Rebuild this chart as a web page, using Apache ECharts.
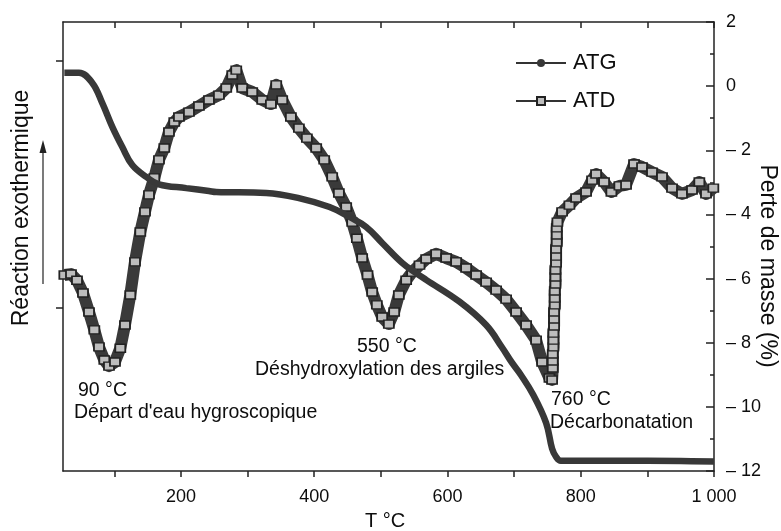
<!DOCTYPE html>
<html>
<head>
<meta charset="utf-8">
<script src="https://cdn.jsdelivr.net/npm/echarts/dist/echarts.min.js"></script>
<style>
html,body{margin:0;padding:0;background:#fff;}
#c{width:781px;height:531px;}
</style>
</head>
<body>
<div id="c"></div>
<script>
// ---- data ----
const atgT = [25, 47, 67, 82, 97, 112, 127, 148, 167, 208, 242, 253, 328, 377, 423, 453, 478, 502, 532, 553, 568, 618, 658, 682, 696, 710, 728, 748, 757, 763, 770, 850, 950, 1000];
const atgV = [0.42, 0.42, 0.10, -0.53, -1.27, -1.90, -2.46, -2.83, -3.06, -3.18, -3.27, -3.30, -3.33, -3.49, -3.77, -4.08, -4.39, -4.89, -5.51, -5.83, -6.04, -6.72, -7.45, -8.15, -8.60, -9.00, -9.60, -10.50, -11.30, -11.56, -11.68, -11.68, -11.69, -11.70];

const atdT = [25, 35, 44, 53, 62, 70, 77, 85, 92, 101, 109, 116, 124, 131, 139, 146, 152, 160, 167, 175, 182, 190, 197, 212, 227, 242, 257, 268, 277, 283, 292, 307, 322, 335, 343, 352, 365, 377, 389, 403, 415, 427, 437, 448, 457, 464, 472, 480, 487, 494, 502, 512, 520, 527, 538, 547, 558, 568, 583, 598, 613, 628, 643, 658, 673, 688, 703, 718, 733, 742, 753, 757,
  758, 758, 758, 759, 759, 759, 760, 760, 760, 761, 761, 761, 762, 762, 762, 763, 763, 763, 764, 764, 764, 765,
  772, 783, 793, 808, 817, 823, 835, 846, 858, 868, 880, 892, 907, 922, 937, 952, 967, 978, 988, 999];
const atdV = [-5.89, -5.86, -6.05, -6.45, -7.04, -7.60, -8.13, -8.54, -8.73, -8.60, -8.17, -7.45, -6.51, -5.48, -4.55, -3.92, -3.39, -2.86, -2.30, -1.93, -1.43, -1.12, -0.96, -0.81, -0.62, -0.43, -0.28, -0.06, 0.35, 0.50, -0.06, -0.18, -0.43, -0.56, 0.04, -0.43, -0.96, -1.31, -1.62, -1.93, -2.30, -2.83, -3.33, -3.77, -4.24, -4.74, -5.36, -5.89, -6.42, -6.82, -7.20, -7.42, -7.04, -6.51, -6.05, -5.80, -5.58, -5.39, -5.23, -5.36, -5.48, -5.67, -5.89, -6.11, -6.36, -6.64, -7.04, -7.45, -7.92, -8.60, -9.10, -9.16,
  -8.79, -8.57, -8.35, -8.13, -7.92, -7.70, -7.48, -7.26, -7.04, -6.82, -6.61, -6.39, -6.17, -5.95, -5.73, -5.51, -5.30, -5.08, -4.86, -4.64, -4.42, -4.24,
  -3.92, -3.71, -3.49, -3.30, -2.93, -2.74, -2.99, -3.30, -3.11, -3.08, -2.43, -2.52, -2.68, -2.83, -3.18, -3.36, -3.24, -2.99, -3.36, -3.18];

const xLabelValues = [200, 400, 600, 800, 1000];
const xTickValues = [100, 200, 300, 400, 500, 600, 700, 800, 900, 1000];
const leftTickValues = [0.8, -6.9];
const seriesNames = ['ATG', 'ATD'];
const annotations = [
  {text: '90 °C', x: 78, y: 391},
  {text: "Départ d'eau hygroscopique", x: 74, y: 413},
  {text: '550 °C', x: 357, y: 347},
  {text: 'Déshydroxylation des argiles', x: 255, y: 370},
  {text: '760 °C', x: 551, y: 400},
  {text: 'Décarbonatation', x: 550, y: 423}
];

const FONT = '"Liberation Sans", Arial, Helvetica, sans-serif';
const INK = '#0d0d0d';

const chart = echarts.init(document.getElementById('c'), null, {renderer: 'canvas'});

const atgData = atgT.map((t, i) => [t, atgV[i]]);
const atdData = atdT.map((t, i) => [t, atdV[i]]);

const graphics = annotations.map(a => ({
  type: 'text', x: a.x, y: a.y,
  style: {text: a.text, fill: INK, font: '19.5px ' + FONT, textAlign: 'left', textVerticalAlign: 'middle', align: 'left', verticalAlign: 'middle'}
}));
graphics.push(
  {type: 'text', x: 22, y: 208, rotation: Math.PI / 2,
   style: {text: 'Réaction exothermique', fill: INK, font: '23px ' + FONT, textAlign: 'center', textVerticalAlign: 'middle', align: 'center', verticalAlign: 'middle'}},
  {type: 'text', x: 767, y: 266, rotation: -Math.PI / 2,
   style: {text: 'Perte de masse (%)', fill: INK, font: '23px ' + FONT, textAlign: 'center', textVerticalAlign: 'middle', align: 'center', verticalAlign: 'middle'}},
  {type: 'text', x: 385, y: 521,
   style: {text: 'T °C', fill: INK, font: '20px ' + FONT, textAlign: 'center', textVerticalAlign: 'middle', align: 'center', verticalAlign: 'middle'}},
  {type: 'line', shape: {x1: 43, y1: 284, x2: 43, y2: 150}, style: {stroke: '#222', lineWidth: 1.2}},
  {type: 'polygon', shape: {points: [[43, 140], [39.5, 153], [46.5, 153]]}, style: {fill: '#222'}}
);

chart.setOption({
  backgroundColor: '#fff',
  animation: false,
  grid: {left: 63, right: 67, top: 22, bottom: 60},
  legend: {
    data: seriesNames,
    orient: 'vertical',
    left: 510, top: 47,
    itemWidth: 50, itemHeight: 10, itemGap: 16,
    textStyle: {fontSize: 22, color: INK, fontFamily: FONT, padding: [0, 0, 0, 2]},
    lineStyle: {width: 2, color: '#333'}
  },
  xAxis: [
    {
      type: 'value', min: 23, max: 1000, position: 'bottom',
      axisLine: {show: true, onZero: false, lineStyle: {color: '#222', width: 1.5}},
      axisTick: {show: true, inside: false, length: 6, customValues: xTickValues, lineStyle: {color: '#222', width: 1.5}},
      axisLabel: {customValues: xLabelValues, fontSize: 18, color: INK, fontFamily: FONT, margin: 17,
        formatter: v => v === 1000 ? '1 000' : String(v)},
      splitLine: {show: false}
    },
    {
      type: 'value', min: 23, max: 1000, position: 'top',
      axisLine: {show: true, onZero: false, lineStyle: {color: '#222', width: 1.5}},
      axisTick: {show: true, inside: true, length: 6, customValues: xTickValues, lineStyle: {color: '#222', width: 1.5}},
      axisLabel: {show: false},
      splitLine: {show: false}
    }
  ],
  yAxis: [
    {
      type: 'value', min: -12, max: 2, position: 'left',
      axisLine: {show: true, onZero: false, lineStyle: {color: '#222', width: 1.5}},
      axisTick: {show: true, inside: false, length: 7, customValues: leftTickValues, lineStyle: {color: '#222', width: 1.5}},
      axisLabel: {show: false},
      splitLine: {show: false}
    },
    {
      type: 'value', min: -12, max: 2, interval: 2, position: 'right',
      axisLine: {show: true, onZero: false, lineStyle: {color: '#222', width: 1.5}},
      axisTick: {show: true, inside: true, length: 8, lineStyle: {color: '#222', width: 1.5}},
      minorTick: {show: true, splitNumber: 2, length: 4, lineStyle: {color: '#222', width: 1.5}},
      axisLabel: {fontSize: 18, color: INK, fontFamily: FONT, margin: 12,
        formatter: v => v < 0 ? '– ' + (-v) : String(v)},
      splitLine: {show: false}
    }
  ],
  series: [
    {
      name: 'ATG', type: 'line', xAxisIndex: 0, yAxisIndex: 1,
      data: atgData, smooth: 0.4, showSymbol: false,
      symbol: 'circle', symbolSize: 7,
      lineStyle: {width: 6.5, color: '#383838'},
      itemStyle: {color: '#383838'},
      z: 3
    },
    {
      name: 'ATD', type: 'line', xAxisIndex: 0, yAxisIndex: 0,
      data: atdData, smooth: false,
      symbol: 'rect', symbolSize: [10, 8], showAllSymbol: true,
      lineStyle: {width: 12, color: '#3a3a3a', join: 'round'},
      itemStyle: {color: '#bdbdbd', borderColor: '#222', borderWidth: 1.6},
      z: 2
    }
  ],
  graphic: graphics
});
</script>
</body>
</html>
